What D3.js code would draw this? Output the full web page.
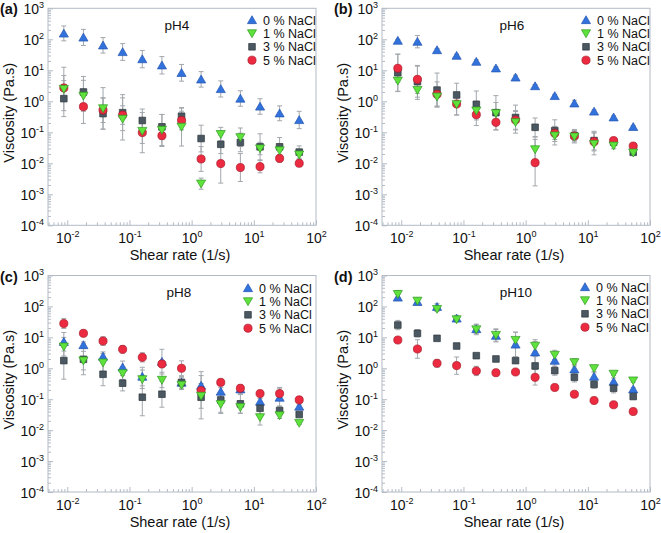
<!DOCTYPE html>
<html><head><meta charset="utf-8">
<script src="https://cdn.jsdelivr.net/npm/d3@7"></script>
<style>
body{margin:0;background:#fff}
svg{display:block}
text{font-family:"Liberation Sans",Arial,Helvetica,sans-serif;fill:#111}
</style>
</head><body>
<svg id="chart" width="661" height="533"></svg>
<script>
// ---------------- data ----------------
const shearRate = [0.0088,0.0182,0.0376,0.0777,0.161,0.333,0.688,1.42,2.94,6.08,12.6,26.0,53.7];
const seriesNames = ["0 % NaCl","1 % NaCl","3 % NaCl","5 % NaCl"];
const panelLetters = ["(a)","(b)","(c)","(d)"];
const panelTitles = ["pH4","pH6","pH8","pH10"];
const xTickValues = [0.01,0.1,1,10,100];
const xTickExp = ["-2","-1","0","1","2"];
const yTickValues = [1e-4,1e-3,1e-2,1e-1,1,10,100,1000];
const yTickExp = ["-4","-3","-2","-1","0","1","2","3"];

// viscosity (Pa.s); *Err = error bar half-width in decades
const pH4_0 = [155,115,64,39,23,14.5,8.3,5.1,2.5,1.23,0.68,0.41,0.25];
const pH4_0Err = [0.24,0.26,0.25,0.27,0.28,0.28,0.27,0.25,0.26,0.25,0.25,0.24,0.28];
const pH4_1 = [2.5,1.5,0.59,0.27,0.11,0.119,0.15,0.0022,0.087,0.069,0.030,0.026,0.019];
const pH4_1Err = [0.7,0.5,0.67,0.68,0.4,0.5,0.62,0.18,0.22,0.3,0.2,0.2,0.15];
const pH4_3 = [1.22,2.0,0.40,0.43,0.24,0.15,0.33,0.063,0.041,0.047,0.034,0.034,0.023];
const pH4_3Err = [0.58,0.5,0.5,0.58,0.37,0.4,0.26,0.43,0.3,0.3,0.42,0.3,0.2];
const pH4_5 = [2.7,0.67,0.52,0.36,0.098,0.078,0.24,0.0138,0.0098,0.0073,0.0078,0.0144,0.010];
const pH4_5Err = [0.4,0.54,0.4,0.3,0.65,0.35,0.3,0.4,0.63,0.45,0.2,0.12,0.1];

const pH6_0 = [90.6,84,45,29.7,19,11.6,5.9,3.1,1.49,0.86,0.47,0.305,0.15];
const pH6_0Err = [0.04,0.2,0.05,0.05,0.06,0.05,0.07,0.05,0.05,0.1,0.05,0.05,0.04];
const pH6_1 = [4.6,2.3,1.41,0.80,0.50,0.41,0.21,0.028,0.078,0.072,0.042,0.037,0.022];
const pH6_1Err = [0.35,0.3,0.3,0.35,0.3,0.35,0.35,0.4,0.3,0.2,0.35,0.1,0.05];
const pH6_3 = [8.4,4.3,2.3,1.6,0.80,0.43,0.30,0.145,0.113,0.078,0.054,0.048,0.0226];
const pH6_3Err = [0.6,0.5,0.55,0.38,0.43,0.55,0.4,0.3,0.35,0.2,0.3,0.1,0.05];
const pH6_5 = [11.6,5.1,1.68,0.82,0.37,0.21,0.25,0.0105,0.093,0.076,0.050,0.054,0.036];
const pH6_5Err = [0.45,0.45,0.4,0.35,0.35,0.25,0.3,0.75,0.2,0.15,0.3,0.1,0.05];

const pH8_0 = [7.2,5.65,2.4,1.08,0.54,1.64,0.345,0.276,0.177,0.21,0.084,0.113,0.058];
const pH8_0Err = [0.3,0.1,0.15,0.2,0.3,0.4,0.2,0.45,0.3,0.15,0.1,0.3,0.05];
const pH8_1 = [5.0,1.77,1.52,0.69,0.44,0.42,0.29,0.128,0.069,0.055,0.026,0.030,0.017];
const pH8_1Err = [0.3,0.3,0.3,0.2,0.3,0.25,0.15,0.4,0.3,0.2,0.25,0.1,0.05];
const pH8_3 = [1.77,1.95,0.64,0.33,0.116,0.145,0.35,0.116,0.095,0.071,0.051,0.043,0.032];
const pH8_3Err = [0.6,0.5,0.37,0.25,0.6,0.42,0.15,0.7,0.4,0.3,0.2,0.15,0.05];
const pH8_5 = [28,13.5,7.6,4.1,2.26,1.38,1.0,0.19,0.35,0.226,0.152,0.152,0.095];
const pH8_5Err = [0.16,0.1,0.14,0.12,0.15,0.1,0.24,0.1,0.1,0.08,0.05,0.2,0.05];

const pH10_0 = [195,141,97.6,41,18.6,11.3,5.9,3.3,1.77,0.93,0.54,0.37,0.21];
const pH10_0Err = [0.1,0.1,0.1,0.1,0.15,0.2,0.4,0.35,0.2,0.15,0.12,0.12,0.05];
const pH10_1 = [250,152,82,38,18,11.9,8.2,5.3,2.7,1.56,1.0,0.66,0.40];
const pH10_1Err = [0.12,0.1,0.08,0.08,0.17,0.2,0.25,0.2,0.15,0.12,0.1,0.05,0.05];
const pH10_3 = [25,13.5,9.3,5.25,2.56,2.0,1.77,1.19,0.84,0.51,0.30,0.226,0.122];
const pH10_3Err = [0.15,0.12,0.05,0.05,0.05,0.05,0.05,0.3,0.15,0.15,0.12,0.15,0.05];
const pH10_5 = [8.2,4.2,1.45,1.22,0.82,0.72,0.76,0.51,0.24,0.145,0.091,0.066,0.040];
const pH10_5Err = [0.05,0.3,0.12,0.28,0.15,0.1,0.05,0.25,0.05,0.05,0.05,0.05,0.05];

const panelData = [
  [[pH4_0,pH4_0Err],[pH4_1,pH4_1Err],[pH4_3,pH4_3Err],[pH4_5,pH4_5Err]],
  [[pH6_0,pH6_0Err],[pH6_1,pH6_1Err],[pH6_3,pH6_3Err],[pH6_5,pH6_5Err]],
  [[pH8_0,pH8_0Err],[pH8_1,pH8_1Err],[pH8_3,pH8_3Err],[pH8_5,pH8_5Err]],
  [[pH10_0,pH10_0Err],[pH10_1,pH10_1Err],[pH10_3,pH10_3Err],[pH10_5,pH10_5Err]]
];

// ---------------- styles / layout ----------------
const styles = [
  {type:d3.symbolTriangle, size:36, rot:0,   fill:"#3272dc", stroke:"#2455b0", dy:1},
  {type:d3.symbolTriangle, size:36, rot:180, fill:"#5fe23c", stroke:"#2f9a22", dy:-1},
  {type:d3.symbolSquare,   size:44, rot:0,   fill:"#4b5862", stroke:"#2c363c", dy:0},
  {type:d3.symbolCircle,   size:52, rot:0,   fill:"#ec2a40", stroke:"#a81828", dy:0}
];
const drawOrder = [0,2,3,1];
const layout = [
  {x0:48,  x1:316, y0:8.3,   y1:225.3, lgX:252, lgY:20,  tX:177, tY:30},
  {x0:382, x1:650, y0:8.3,   y1:225.3, lgX:586, lgY:20,  tX:512, tY:30},
  {x0:48,  x1:316, y0:275.5, y1:492,   lgX:248, lgY:288, tX:179, tY:297},
  {x0:382, x1:650, y0:275.5, y1:492,   lgX:585, lgY:287, tX:516, tY:297}
];
const frameColor = "#b3bbc6";

const svg = d3.select("#chart");

function minorValues(lo, hi) {
  const out = [];
  for (let e = Math.floor(Math.log10(lo)); e <= Math.ceil(Math.log10(hi)); e++) {
    for (let m = 2; m <= 9; m++) { const v = m * Math.pow(10, e); if (v >= lo && v <= hi) out.push(v); }
  }
  return out;
}

layout.forEach((L, p) => {
  const g = svg.append("g");
  const x = d3.scaleLog().domain([0.0049, 100]).range([L.x0, L.x1]);
  const y = d3.scaleLog().domain([1e-4, 1e3]).range([L.y1, L.y0]);

  // minor ticks
  g.append("g").attr("transform", `translate(0,${L.y1})`)
    .call(d3.axisBottom(x).tickValues(minorValues(0.0049, 100)).tickSize(-3).tickFormat(""))
    .call(a => { a.select(".domain").remove(); a.selectAll("line").attr("stroke", frameColor); });
  g.append("g").attr("transform", `translate(${L.x0},0)`)
    .call(d3.axisLeft(y).tickValues(minorValues(1e-4, 1e3)).tickSize(-3).tickFormat(""))
    .call(a => { a.select(".domain").remove(); a.selectAll("line").attr("stroke", frameColor); });

  // major ticks + labels
  g.append("g").attr("transform", `translate(0,${L.y1})`)
    .call(d3.axisBottom(x).tickValues(xTickValues).tickSize(-5).tickFormat(""))
    .call(a => {
      a.select(".domain").remove();
      a.selectAll("line").attr("stroke", frameColor);
      a.selectAll(".tick text").each(function(d, i) {
        const t = d3.select(this).attr("y", 18).attr("dy", null).attr("font-size", 14).attr("fill", "#111").attr("text-anchor", "middle");
        t.append("tspan").text("10");
        t.append("tspan").attr("dy", -6).attr("font-size", 9).text(xTickExp[i]);
      });
    });
  g.append("g").attr("transform", `translate(${L.x0},0)`)
    .call(d3.axisLeft(y).tickValues(yTickValues).tickSize(-5).tickFormat(""))
    .call(a => {
      a.select(".domain").remove();
      a.selectAll("line").attr("stroke", frameColor);
      a.selectAll(".tick text").each(function(d, i) {
        const t = d3.select(this).attr("x", -4).attr("dy", null).attr("y", 5).attr("font-size", 14).attr("fill", "#111").attr("text-anchor", "end");
        t.append("tspan").text("10");
        t.append("tspan").attr("dy", -6).attr("font-size", 9).text(yTickExp[i]);
      });
    });

  // frame
  g.append("rect").attr("x", L.x0).attr("y", L.y0).attr("width", L.x1 - L.x0).attr("height", L.y1 - L.y0)
    .attr("fill", "none").attr("stroke", frameColor).attr("stroke-width", 1);

  // axis titles
  g.append("text").attr("x", (L.x0 + L.x1) / 2 - 2).attr("y", L.y1 + 35).attr("text-anchor", "middle")
    .attr("font-size", 14.5).text("Shear rate (1/s)");
  g.append("text").attr("transform", `translate(${L.x0 - 34},${(L.y0 + L.y1) / 2 - 4}) rotate(-90)`)
    .attr("text-anchor", "middle").attr("font-size", 14.5).text("Viscosity (Pa.s)");

  // panel letter & title
  g.append("text").attr("x", L.x0 - 48).attr("y", L.y0 + 6).attr("font-size", 14.5).attr("font-weight", "bold").text(panelLetters[p]);
  g.append("text").attr("x", L.tX).attr("y", L.tY).attr("text-anchor", "middle").attr("font-size", 13.5).text(panelTitles[p]);

  // error bars
  const eg = g.append("g").attr("stroke", "#a2a7ac").attr("stroke-width", 1);
  panelData[p].forEach(([vals, errs]) => {
    vals.forEach((v, i) => {
      const cx = x(shearRate[i]);
      const yt = y(v * Math.pow(10, errs[i])), yb = y(v / Math.pow(10, errs[i]));
      eg.append("line").attr("x1", cx).attr("x2", cx).attr("y1", yt).attr("y2", yb);
      eg.append("line").attr("x1", cx - 2.5).attr("x2", cx + 2.5).attr("y1", yt).attr("y2", yt);
      eg.append("line").attr("x1", cx - 2.5).attr("x2", cx + 2.5).attr("y1", yb).attr("y2", yb);
    });
  });

  // markers
  drawOrder.forEach(s => {
    const st = styles[s];
    const sym = d3.symbol().type(st.type).size(st.size);
    const [vals] = panelData[p][s];
    g.append("g").selectAll("path").data(vals).join("path")
      .attr("d", sym)
      .attr("transform", (v, i) => `translate(${x(shearRate[i])},${y(v) + st.dy}) rotate(${st.rot})`)
      .attr("fill", st.fill).attr("stroke", st.stroke).attr("stroke-width", 0.7);
  });

  // legend
  seriesNames.forEach((name, s) => {
    const st = styles[s];
    const ly = L.lgY + s * 13.4;
    g.append("path").attr("d", d3.symbol().type(st.type).size(st.size)())
      .attr("transform", `translate(${L.lgX},${ly + st.dy}) rotate(${st.rot})`)
      .attr("fill", st.fill).attr("stroke", st.stroke).attr("stroke-width", 0.7);
    g.append("text").attr("x", L.lgX + 11).attr("y", ly + 4.5).attr("font-size", 12.5).text(name);
  });
});
</script>
</body></html>
